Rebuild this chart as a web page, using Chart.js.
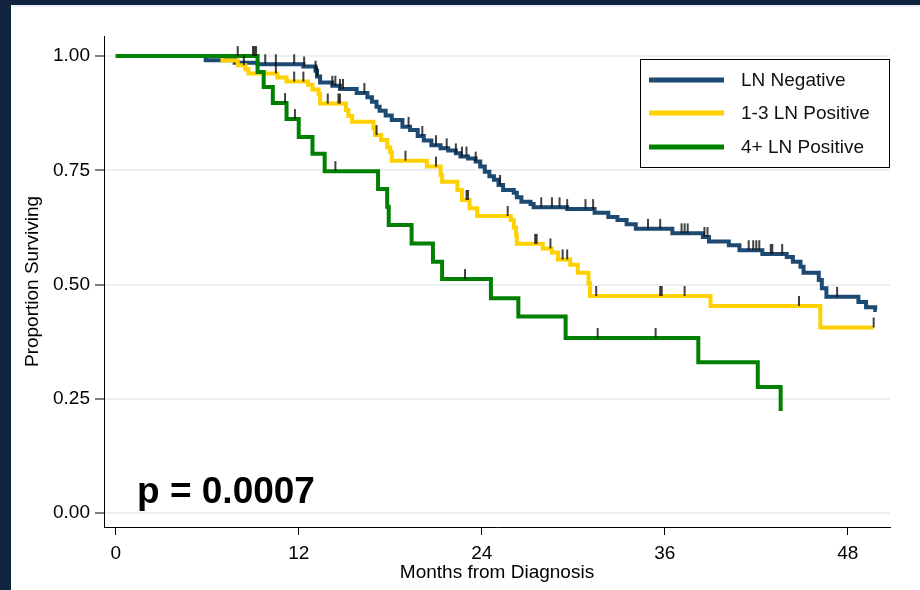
<!DOCTYPE html>
<html>
<head>
<meta charset="utf-8">
<title>Survival by lymph node status</title>
<script src="https://cdn.jsdelivr.net/npm/chart.js@4.4.1/dist/chart.umd.min.js"></script>
<style>
html, body { margin: 0; padding: 0; background: #10243f; }
#wrap {
	position: absolute; left: 11px; top: 5px; width: 909px; height: 585px;
	background: linear-gradient(#e8f0f5 0, #e8f0f5 2px, #fff 2px);
}
</style>
</head>
<body>
<div id="wrap"><canvas id="kmChart" width="909" height="585"></canvas></div>
<script>
var xTicks = [0, 12, 24, 36, 48];
var yTicks = [0, 0.25, 0.5, 0.75, 1];
var groupNames = ['LN Negative', '1-3 LN Positive', '4+ LN Positive'];
var pText = 'p = 0.0007';

// LN negative: month of each step and survival after it
var negTime = [0, 5.9, 7.8, 9.3, 12.3, 13.1, 13.2, 13.4, 14.2, 14.7, 15.8, 16.5, 16.8, 17.1, 17.3, 17.7, 18.1, 18.8, 19.3, 19.8,
	20.2, 20.7, 21.3, 21.8, 22.3, 22.6, 23.1, 23.6, 23.9, 24.2, 24.5, 24.8, 25.1, 25.4, 26.1, 26.3, 26.6, 27.2, 27.4, 29.6,
	31.4, 32.3, 32.9, 33.5, 34.1, 36.5, 38.5, 38.9, 40.2, 40.9, 42.4, 44.0, 44.4, 44.9, 45.1, 46.1, 46.3, 46.6, 48.7, 49.2, 49.8, 49.9];
var negSurv = [1, 0.991, 0.985, 0.982, 0.977, 0.968, 0.955, 0.942, 0.935, 0.928, 0.919, 0.910, 0.900, 0.889, 0.880, 0.870, 0.860, 0.845, 0.838, 0.825,
	0.815, 0.805, 0.798, 0.793, 0.787, 0.780, 0.776, 0.769, 0.758, 0.747, 0.737, 0.729, 0.718, 0.707, 0.701, 0.691, 0.681, 0.676, 0.669, 0.665,
	0.657, 0.648, 0.641, 0.632, 0.622, 0.612, 0.604, 0.594, 0.586, 0.575, 0.567, 0.560, 0.550, 0.539, 0.526, 0.510, 0.492, 0.473, 0.462, 0.450, 0.444, 0.444];
var negCensor = [9.8, 10.5, 11.7, 12.35, 13.1, 13.2, 14.2, 14.4, 14.7, 14.9, 16.3, 19.2, 20.1, 21.0, 21.7, 22.3, 22.7, 23.0, 23.6, 25.2,
	27.9, 28.6, 29.1, 29.6, 30.8, 31.3, 34.9, 35.7, 37.1, 37.3, 37.5, 38.6, 38.8, 41.5, 41.8, 42.0, 42.2, 42.95, 43.05, 43.7, 47.3];

// 1-3 LN positive
var pos13Time = [0, 7.0, 8.0, 8.5, 8.7, 10.6, 11.2, 12.6, 12.9, 13.3, 13.4, 15.1, 15.25, 15.5, 16.9, 17.0, 17.4, 17.8, 18.0, 18.1,
	20.4, 21.3, 21.4, 22.4, 22.7, 23.2, 23.7, 25.9, 26.1, 26.25, 26.3, 28.0, 28.6, 29.0, 29.8, 30.3, 31.0, 31.1, 39.0, 46.2, 49.7];
var pos13Surv = [1, 0.990, 0.980, 0.971, 0.962, 0.953, 0.944, 0.937, 0.927, 0.917, 0.896, 0.882, 0.869, 0.856, 0.842, 0.827, 0.816, 0.800, 0.790, 0.771,
	0.758, 0.740, 0.725, 0.707, 0.685, 0.667, 0.650, 0.641, 0.625, 0.608, 0.589, 0.579, 0.570, 0.555, 0.543, 0.526, 0.503, 0.475, 0.453, 0.406, 0.406];
var pos13Censor = [8.4, 10.5, 11.7, 12.3, 13.9, 14.6, 14.7, 17.1, 19.0, 21.0, 23.0, 23.1, 25.7, 27.5, 27.6, 28.5, 29.3, 29.6, 31.5, 35.7, 35.8, 37.3, 44.8, 49.7];

// 4+ LN positive
var pos4Time = [0, 9.3, 9.7, 10.3, 11.2, 12.0, 12.9, 13.7, 17.2, 17.8, 17.9, 19.4, 20.8, 21.4, 24.6, 26.4, 29.5, 38.2, 42.1, 43.6];
var pos4Surv = [1, 0.965, 0.932, 0.897, 0.862, 0.823, 0.786, 0.748, 0.709, 0.670, 0.630, 0.590, 0.550, 0.512, 0.470, 0.430, 0.383, 0.330, 0.276, 0.223];
var pos4Censor = [8.0, 9.0, 9.1, 9.2, 11.1, 11.75, 14.4, 22.9, 31.6, 35.4];

var colors = ['#1d4a73', '#ffd100', '#008000'];
var fontFamily = '"Liberation Sans", Arial, Helvetica, sans-serif';

function toPoints(times, surv) {
	var pts = [];
	for (var i = 0; i < times.length; i++) {
		pts.push({x: times[i], y: surv[i]});
	}
	return pts;
}

// value of the step curve at month t
function survAt(times, surv, t) {
	var v = surv[0];
	for (var i = 0; i < times.length; i++) {
		if (times[i] <= t) v = surv[i];
	}
	return v;
}

function censorPoints(times, surv, cens) {
	return cens.map(function(t) { return {x: t, y: survAt(times, surv, t)}; });
}

// censor mark: a short tick standing up from the curve
var tick = document.createElement('canvas');
tick.width = 4;
tick.height = 22;
var tctx = tick.getContext('2d');
tctx.strokeStyle = '#111';
tctx.lineWidth = 1.6;
tctx.beginPath();
tctx.moveTo(2, 1);
tctx.lineTo(2, 11);
tctx.stroke();

function curve(label, times, surv, color, order) {
	return {
		type: 'line', label: label, data: toPoints(times, surv),
		borderColor: color, backgroundColor: color, borderWidth: 4,
		stepped: 'before', pointRadius: 0, fill: false, order: order,
		borderCapStyle: 'butt', borderJoinStyle: 'miter'
	};
}

function censors(times, surv, cens) {
	return {
		type: 'scatter', label: '', data: censorPoints(times, surv, cens),
		pointStyle: tick, pointRadius: 3, order: 0
	};
}

var kmExtras = {
	id: 'kmExtras',
	afterDatasetsDraw: function(chart) {
		var ctx = chart.ctx, a = chart.chartArea;
		ctx.save();
		ctx.fillStyle = '#000';
		ctx.font = 'bold 37px ' + fontFamily;
		ctx.textBaseline = 'alphabetic';
		ctx.textAlign = 'left';
		ctx.fillText(pText, a.left + 33, a.top + 467);

		var bx = a.right - 250, by = a.top + 23, bw = 249, bh = 108;
		ctx.fillStyle = '#fff';
		ctx.fillRect(bx, by, bw, bh);
		ctx.strokeStyle = '#000';
		ctx.lineWidth = 1;
		ctx.strokeRect(bx + 0.5, by + 0.5, bw, bh);
		ctx.font = '19px ' + fontFamily;
		ctx.textBaseline = 'middle';
		var rows = [21, 54, 88];
		for (var i = 0; i < groupNames.length; i++) {
			ctx.strokeStyle = colors[i];
			ctx.lineWidth = 5;
			ctx.beginPath();
			ctx.moveTo(bx + 9, by + rows[i]);
			ctx.lineTo(bx + 84, by + rows[i]);
			ctx.stroke();
			ctx.fillStyle = '#111';
			ctx.fillText(groupNames[i], bx + 101, by + rows[i] + 1);
		}
		ctx.restore();
	}
};

var ctx = document.getElementById('kmChart');
var chart = new Chart(ctx, {
	data: {
		datasets: [
			censors(negTime, negSurv, negCensor),
			censors(pos13Time, pos13Surv, pos13Censor),
			censors(pos4Time, pos4Surv, pos4Censor),
			curve(groupNames[2], pos4Time, pos4Surv, colors[2], 1),
			curve(groupNames[1], pos13Time, pos13Surv, colors[1], 2),
			curve(groupNames[0], negTime, negSurv, colors[0], 3)
		]
	},
	options: {
		responsive: false,
		animation: false,
		devicePixelRatio: 1,
		layout: { padding: { left: 0, top: 31, right: 30, bottom: 0 } },
		plugins: {
			legend: { display: false },
			tooltip: { enabled: false }
		},
		scales: {
			x: {
				type: 'linear', min: -0.77, max: 50.77,
				afterBuildTicks: function(s) { s.ticks = xTicks.map(function(v) { return {value: v}; }); },
				ticks: { color: '#000', font: { size: 19, family: fontFamily }, padding: 7, maxRotation: 0 },
				grid: { drawOnChartArea: false, tickLength: 8, tickColor: '#000', tickWidth: 1 },
				border: { color: '#000', width: 1 },
				title: { display: true, text: 'Months from Diagnosis', color: '#000',
					font: { size: 19, family: fontFamily }, padding: { top: 0, bottom: 6 } },
				afterFit: function(s) { s.height = 63; }
			},
			y: {
				type: 'linear', min: -0.0306, max: 1.0438,
				afterBuildTicks: function(s) { s.ticks = yTicks.map(function(v) { return {value: v}; }); },
				ticks: { color: '#000', font: { size: 19, family: fontFamily }, padding: 5,
					callback: function(v) { return v.toFixed(2); } },
				grid: { color: '#e9eff3', lineWidth: 2, tickLength: 9, tickColor: '#000', tickWidth: 1 },
				border: { color: '#000', width: 1 },
				title: { display: true, text: 'Proportion Surviving', color: '#000',
					font: { size: 19, family: fontFamily }, padding: { top: 10, bottom: 0 } },
				afterFit: function(s) { s.width = 93; }
			}
		}
	},
	plugins: [kmExtras]
});
</script>
</body>
</html>
